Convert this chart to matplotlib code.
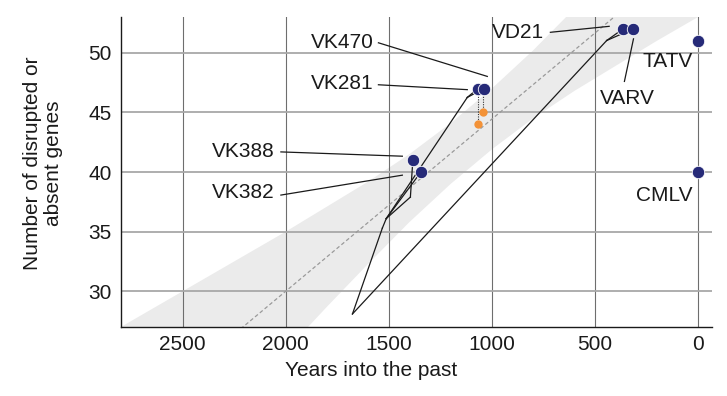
import matplotlib
matplotlib.use('Agg')
import matplotlib.pyplot as plt

plt.rcParams['font.family'] = ['Liberation Sans', 'DejaVu Sans']

# genomes: years into the past vs number of disrupted/absent genes
names = ['VK388', 'VK382', 'VK281', 'VK470', 'VD21', 'VARV', 'TATV', 'CMLV']
years = [1383, 1344, 1068, 1039, 364, 316, 0, 0]
genes = [41, 40, 47, 47, 52, 52, 51, 40]

# alternative counts (orange), linked to VK281 / VK470
alt_years = [1068, 1041]
alt_genes = [44, 45]
alt_from = [47, 47]

# regression line and its confidence band
fit_years = [2800, -100]
fit_genes = [18.45, 60.32]
band_years = [2800, 2600, 2400, 2200, 2000, 1800, 1600, 1400, 1200, 1000, 800, 600, 400, 200, 0, -100]
band_upper = [27.0, 29.0, 31.0, 33.0, 35.0, 37.1, 39.2, 41.5, 44.1, 47.0, 50.2, 53.7, 57.3, 61.0, 64.7, 66.6]
band_lower = [9.9, 13.7, 17.5, 21.3, 25.0, 28.7, 32.3, 35.8, 39.0, 41.9, 44.5, 46.8, 48.9, 51.0, 53.0, 54.0]

# tree drawn over the plot: inner nodes + edges
nodes = {
    'root': (1676, 28.1),
    'K': (1531, 35.3),
    'A': (1512, 36.1),
    'B': (1395, 37.9),
    'C': (1119, 46.26),
    'D': (443, 51.03),
}
for n, x, y in zip(names, years, genes):
    nodes[n] = (x, y)
edges = [('root', 'K'), ('K', 'A'), ('A', 'B'), ('B', 'VK388'), ('A', 'VK382'),
         ('A', 'C'), ('C', 'VK281'), ('C', 'VK470'),
         ('root', 'D'), ('D', 'VD21'), ('D', 'VARV')]

# labels: text anchor, alignment and leader line (start, end)
labels = {
    'VK470': ((1572, 50.89), 'right', (1550, 50.84), (1022, 48.02)),
    'VK281': ((1574, 47.41), 'right', (1550, 47.32), (1119, 46.91)),
    'VK388': ((2055, 41.69), 'right', (2023, 41.69), (1434, 41.33)),
    'VK382': ((2055, 38.26), 'right', (2023, 38.07), (1434, 39.74)),
    'VD21': ((749, 51.72), 'right', (716, 51.72), (431, 52.22)),
    'VARV': ((341, 46.2), 'center', (357, 47.6), (313, 51.17)),
    'TATV': ((26, 49.3), 'right', None, None),
    'CMLV': ((26, 38.07), 'right', None, None),
}

navy = '#262a78'
orange = '#f39237'

fig = plt.figure(figsize=(7.27, 3.96), dpi=100)
ax = fig.add_axes([0.166, 0.174, 0.814, 0.783])

ax.fill_between(band_years, band_lower, band_upper, color='#ebebeb', lw=0, zorder=0.2)
ax.set_axisbelow(True)
ax.xaxis.grid(True, color='#6e6e6e', lw=0.8)
ax.yaxis.grid(True, color='#a8a8a8', lw=1.3)

ax.plot(fit_years, fit_genes, color='#9a9a9a', lw=0.9, dashes=(3, 2), zorder=1)

for a, b in edges:
    ax.plot([nodes[a][0], nodes[b][0]], [nodes[a][1], nodes[b][1]],
            color='#1a1a1a', lw=0.9, zorder=2)

for x, y0, y1 in zip(alt_years, alt_from, alt_genes):
    ax.plot([x, x], [y0, y1], color='#333333', lw=0.8, ls=(0, (1, 1.2)), zorder=2)
ax.scatter(alt_years, alt_genes, s=36, color=orange, lw=0, zorder=3)

ax.scatter(years, genes, s=80, color=navy, edgecolor='white', lw=0.6, zorder=4)

for name, (pos, ha, l0, l1) in labels.items():
    ax.text(pos[0], pos[1], name, ha=ha, va='center', fontsize=15, color='#1a1a1a')
    if l0 is not None:
        ax.plot([l0[0], l1[0]], [l0[1], l1[1]], color='#1a1a1a', lw=0.9, zorder=2)

ax.set_xlim(2800, -70)
ax.set_ylim(27, 53)
ax.set_xticks([2500, 2000, 1500, 1000, 500, 0])
ax.set_yticks([30, 35, 40, 45, 50])
ax.tick_params(length=0, labelsize=15, colors='#1a1a1a')
ax.tick_params(axis='y', pad=6.5)
ax.tick_params(axis='x', pad=6)

for s in ['top', 'right']:
    ax.spines[s].set_visible(False)
for s in ['left', 'bottom']:
    ax.spines[s].set_linewidth(1.0)
    ax.spines[s].set_color('#1a1a1a')

ax.set_xlabel('Years into the past', fontsize=15, color='#1a1a1a')
ax.set_ylabel('Number of disrupted or\nabsent genes', fontsize=15, color='#1a1a1a', linespacing=1.15)
ax.xaxis.set_label_coords(0.424, -0.11)
ax.yaxis.set_label_coords(-0.097, 0.53)

fig.savefig('out.png', dpi=100)
